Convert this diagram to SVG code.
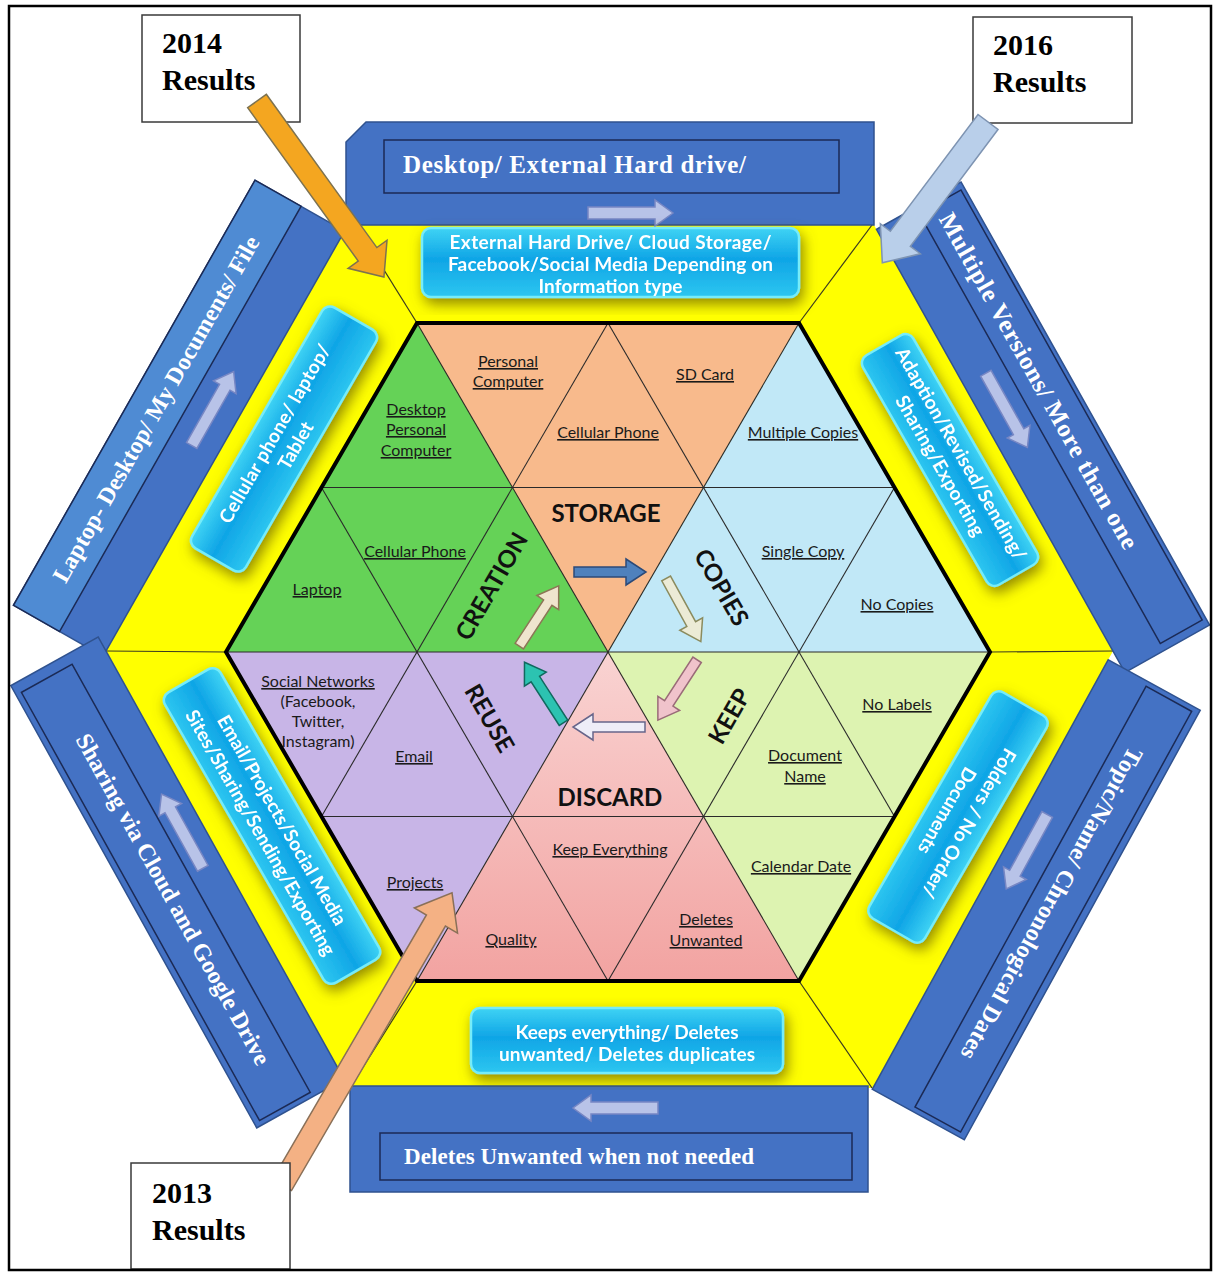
<svg xmlns="http://www.w3.org/2000/svg" width="1213" height="1272" viewBox="0 0 1213 1272">
<defs>
<style>
.flap{fill:#4472C4;stroke:#2F528F;stroke-width:1.5}
.inner{fill:none;stroke:#1B2A55;stroke-width:1.5}
.light{fill:#4F8BD3;stroke:#1B2A55;stroke-width:1.5}
.ft{font-family:"Liberation Serif","Times New Roman",serif;font-weight:bold;fill:#FFFFFF}
.fa{fill:#B8C3E8;stroke:#7787C4;stroke-width:1.5}
.cy{fill:url(#cyG);stroke:#74ECFA;stroke-width:2.5}
.ct{font-family:Lato,"Open Sans",sans-serif;font-weight:bold;font-size:19px;fill:#FFFFFF;text-anchor:middle}
.lb{font-family:Lato,"Open Sans",sans-serif;font-size:16px;fill:#1A1A1A;text-anchor:middle}
.u{text-decoration:underline}
.sc{font-family:Lato,"Open Sans",sans-serif;font-weight:bold;font-size:24px;fill:#111111;text-anchor:middle}
.gl{stroke:#2A2A2A;stroke-width:1.1;fill:none}
.yl{stroke:#3A3A20;stroke-width:1.2}
.cb{fill:#FFFFFF;stroke:#3A3A3A;stroke-width:1.5}
.cbt{font-family:"Liberation Serif","Times New Roman",serif;font-weight:bold;font-size:30px;fill:#000000}
</style>
<linearGradient id="cyG" x1="0" y1="0" x2="0" y2="1">
<stop offset="0" stop-color="#3FD3F4"/>
<stop offset="0.45" stop-color="#0FA5E6"/>
<stop offset="1" stop-color="#2DC6F0"/>
</linearGradient>
<linearGradient id="pkG" x1="0" y1="0" x2="0" y2="1">
<stop offset="0" stop-color="#F9D3D2"/>
<stop offset="1" stop-color="#F2A3A1"/>
</linearGradient>
<filter id="sh" x="-25%" y="-25%" width="150%" height="150%">
<feGaussianBlur in="SourceAlpha" stdDeviation="7"/>
<feOffset dx="3" dy="6" result="b"/>
<feFlood flood-color="#6B6000" flood-opacity="0.75"/>
<feComposite in2="b" operator="in"/>
<feMerge><feMergeNode/><feMergeNode in="SourceGraphic"/></feMerge>
</filter>
<path id="fa" d="M0,-6 H67 V-13 L85,0 L67,13 V6 H0 Z"/>
<path id="ca" d="M-36,-5 H16 V-13 L36,0 L16,13 V5 H-36 Z"/>
</defs>

<rect x="0" y="0" width="1213" height="1272" fill="#FFFFFF"/>

<g id="yellow">
<polygon points="348,225 874,225 1113,651 873,1088 349,1088 106,651" fill="#FFFF00"/>
<line class="yl" x1="417" y1="323" x2="356" y2="225"/>
<line class="yl" x1="799" y1="323" x2="872" y2="225"/>
<line class="yl" x1="990" y1="652" x2="1113" y2="651"/>
<line class="yl" x1="799" y1="981" x2="872" y2="1088"/>
<line class="yl" x1="417" y1="981" x2="350" y2="1088"/>
<line class="yl" x1="226" y1="652" x2="106" y2="651"/>
</g>

<g id="flap-tl" transform="translate(106,651) rotate(-60.4)">
<polygon class="flap" points="-6,0 483,0 483,-103 -6,-103"/>
<rect class="light" x="-6" y="-103" width="489" height="53"/>
<text class="ft" x="38" y="-68" font-size="24" textLength="394">Laptop- Desktop/ My Documents/ File</text>
<use href="#fa" class="fa" transform="translate(221,-27)"/>
</g>

<g id="flap-tr" transform="translate(874,225) rotate(60.71)">
<polygon class="flap" points="5,0 513,0 513,-97 5,-97"/>
<rect class="inner" x="12" y="-93" width="493" height="48"/>
<text class="ft" x="26" y="-59" font-size="25" textLength="381">Multiple Versions/ More than one</text>
<use href="#fa" class="fa" transform="translate(184,-25)"/>
</g>

<g id="flap-br" transform="translate(1113,651) rotate(118.78)">
<polygon class="flap" points="10,0 500,0 500,-105 10,-105"/>
<rect class="inner" x="15" y="-98" width="480" height="52"/>
<text class="ft" x="75" y="-60" font-size="24" textLength="352">Topic/Name/ Chronological Dates</text>
<use href="#fa" class="fa" transform="translate(175,-21)"/>
</g>

<g id="flap-bl" transform="translate(349,1088) rotate(240.92)">
<polygon class="flap" points="10,0 516,0 516,-100 10,-100"/>
<rect class="inner" x="15" y="-94" width="490" height="58"/>
<text class="ft" transform="translate(438,-62) rotate(180)" x="0" y="8" font-size="24" textLength="375">Sharing via Cloud and Google Drive</text>
<use href="#fa" class="fa" transform="translate(263,-21)"/>
</g>

<g id="flap-top">
<polygon class="flap" points="346,225 874,225 874,122 366,122 346,142"/>
<rect class="inner" x="384" y="140" width="455" height="53"/>
<text class="ft" x="403" y="173" font-size="25" textLength="343">Desktop/ External Hard drive/</text>
<use href="#fa" class="fa" transform="translate(588,213)"/>
</g>

<g id="flap-bottom">
<rect class="flap" x="350" y="1086" width="518" height="106"/>
<rect class="inner" x="380" y="1133" width="472" height="47"/>
<text class="ft" x="404" y="1164" font-size="23" textLength="350">Deletes Unwanted when not needed</text>
<use href="#fa" class="fa" transform="translate(658,1108) rotate(180)"/>
</g>

<g id="box-top" filter="url(#sh)">
<rect class="cy" x="422" y="228" width="377" height="69" rx="9"/>
<text class="ct" x="610.5" y="249" textLength="322">External Hard Drive/ Cloud Storage/</text>
<text class="ct" x="610.5" y="271" textLength="325">Facebook/Social Media Depending on</text>
<text class="ct" x="610.5" y="293" textLength="144">Information type</text>
</g>

<g id="box-tl" filter="url(#sh)">
<g transform="translate(284,439) rotate(-60)">
<rect class="cy" x="-139" y="-31" width="278" height="62" rx="9"/>
<text class="ct" x="0" y="-4" textLength="203">Cellular phone/ laptop/</text>
<text class="ct" x="0" y="20">Tablet</text>
</g>
</g>

<g id="box-tr" filter="url(#sh)">
<g transform="translate(950,460) rotate(60)">
<rect class="cy" x="-132.5" y="-29" width="265" height="58" rx="9"/>
<text class="ct" x="0" y="-6" textLength="242">Adaption/Revised/Sending/</text>
<text class="ct" x="0" y="18" textLength="159">Sharing/Exporting</text>
</g>
</g>

<g id="box-br" filter="url(#sh)">
<g transform="translate(958,817) rotate(120)">
<rect class="cy" x="-130.5" y="-32" width="261" height="64" rx="9"/>
<text class="ct" x="0" y="-6" textLength="169">Folders / No Order/</text>
<text class="ct" x="0" y="19" textLength="97">Documents</text>
</g>
</g>

<g id="box-bottom" filter="url(#sh)">
<rect class="cy" x="471" y="1008" width="312" height="65" rx="9"/>
<text class="ct" x="627" y="1039" textLength="223">Keeps everything/ Deletes</text>
<text class="ct" x="627" y="1061" textLength="256">unwanted/ Deletes duplicates</text>
</g>

<g id="box-bl" filter="url(#sh)">
<g transform="translate(272,826) rotate(60)">
<rect class="cy" x="-167.5" y="-32" width="335" height="64" rx="9"/>
<text class="ct" x="0" y="-5" textLength="239">Email/Projects/Social Media</text>
<text class="ct" x="0" y="20" textLength="280">Sites/Sharing/Sending/Exporting</text>
</g>
</g>

<g id="hex">
<polygon points="417,323 799,323 608,652" fill="#F8BA8C"/>
<polygon points="799,323 990,652 608,652" fill="#C1E8F7"/>
<polygon points="990,652 799,981 608,652" fill="#DDF3B1"/>
<polygon points="799,981 417,981 608,652" fill="url(#pkG)"/>
<polygon points="417,981 226,652 608,652" fill="#C8B5E7"/>
<polygon points="226,652 417,323 608,652" fill="#65D257"/>
<line class="gl" x1="321.5" y1="487.5" x2="894.5" y2="487.5"/>
<line class="gl" x1="226" y1="652" x2="990" y2="652"/>
<line class="gl" x1="321.5" y1="816.5" x2="894.5" y2="816.5"/>
<line class="gl" x1="608" y1="323" x2="321.5" y2="816.5"/>
<line class="gl" x1="799" y1="323" x2="417" y2="981"/>
<line class="gl" x1="894.5" y1="487.5" x2="608" y2="981"/>
<line class="gl" x1="608" y1="323" x2="894.5" y2="816.5"/>
<line class="gl" x1="417" y1="323" x2="799" y2="981"/>
<line class="gl" x1="321.5" y1="487.5" x2="608" y2="981"/>
<polygon points="417,323 799,323 990,652 799,981 417,981 226,652" fill="none" stroke="#000000" stroke-width="4"/>
</g>

<g id="labels">
<text class="lb u" x="508" y="367">Personal</text>
<text class="lb u" x="508" y="387">Computer</text>
<text class="lb u" x="705" y="380">SD Card</text>
<text class="lb u" x="608" y="438">Cellular Phone</text>
<text class="lb u" x="803" y="438">Multiple Copies</text>
<text class="lb u" x="416" y="415">Desktop</text>
<text class="lb u" x="416" y="435">Personal</text>
<text class="lb u" x="416" y="456">Computer</text>
<text class="lb u" x="415" y="557">Cellular Phone</text>
<text class="lb u" x="317" y="595">Laptop</text>
<text class="lb u" x="803" y="557">Single Copy</text>
<text class="lb u" x="897" y="610">No Copies</text>
<text class="lb u" x="318" y="687">Social Networks</text>
<text class="lb" x="318" y="707">(Facebook,</text>
<text class="lb" x="318" y="727">Twitter,</text>
<text class="lb" x="318" y="747">Instagram)</text>
<text class="lb u" x="414" y="762">Email</text>
<text class="lb u" x="897" y="710">No Labels</text>
<text class="lb u" x="805" y="761">Document</text>
<text class="lb u" x="805" y="782">Name</text>
<text class="lb u" x="610" y="855">Keep Everything</text>
<text class="lb u" x="801" y="872">Calendar Date</text>
<text class="lb u" x="415" y="888">Projects</text>
<text class="lb u" x="706" y="925">Deletes</text>
<text class="lb u" x="706" y="946">Unwanted</text>
<text class="lb u" x="511" y="945">Quality</text>
<text class="sc" x="606" y="522">STORAGE</text>
<text class="sc" x="610" y="806">DISCARD</text>
<text class="sc" transform="translate(491,586) rotate(-60)" x="0" y="9">CREATION</text>
<text class="sc" transform="translate(722,587) rotate(60)" x="0" y="9">COPIES</text>
<text class="sc" transform="translate(729,716) rotate(-60)" x="0" y="9">KEEP</text>
<text class="sc" transform="translate(490,718) rotate(60)" x="0" y="9">REUSE</text>
</g>

<g id="callout-2014">
<rect class="cb" x="142" y="15" width="158" height="107"/>
<text class="cbt" x="162" y="53">2014</text>
<text class="cbt" x="162" y="90">Results</text>
</g>

<g id="callout-2016">
<rect class="cb" x="973" y="17" width="159" height="106"/>
<text class="cbt" x="993" y="55">2016</text>
<text class="cbt" x="993" y="92">Results</text>
</g>

<g id="connectors">
<use href="#ca" transform="translate(610,572)" fill="#4F81BD" stroke="#2C4A78" stroke-width="1.5"/>
<use href="#ca" transform="translate(683.5,610) rotate(61.2)" fill="#ECEBD6" stroke="#8B8B5E" stroke-width="1.5"/>
<use href="#ca" transform="translate(677.5,690) rotate(123)" fill="#F0C3CB" stroke="#9A6B78" stroke-width="1.5"/>
<use href="#ca" transform="translate(609,727) rotate(180)" fill="#EEEDF8" stroke="#67658A" stroke-width="1.5"/>
<use href="#ca" transform="translate(544,692.5) rotate(237.2)" fill="#2CC3B1" stroke="#11695F" stroke-width="1.5"/>
<use href="#ca" transform="translate(539,616) rotate(-56.8)" fill="#EFE5CE" stroke="#8C7756" stroke-width="1.5"/>
<path d="M0,-11.5 H189 V-24 L217,0 L189,24 V11.5 H0 Z" transform="translate(257,101) rotate(54.2)" fill="#F4A620" stroke="#7D7250" stroke-width="1.5"/>
<path d="M0,-12.5 H146 V-25 L176,0 L146,25 V12.5 H0 Z" transform="translate(988,122) rotate(126.9)" fill="#B9CFEA" stroke="#7E94B2" stroke-width="1.5"/>
<path d="M0,-11 H306 V-25 L338,0 L306,25 V11 H0 Z" transform="translate(282,1185) rotate(-59.8)" fill="#F4B184" stroke="#8A7058" stroke-width="1.5"/>
</g>

<g id="callout-2013">
<rect class="cb" x="131" y="1163" width="159" height="106"/>
<text class="cbt" x="152" y="1203">2013</text>
<text class="cbt" x="152" y="1240">Results</text>
</g>

<rect id="frame" x="9" y="6" width="1202" height="1264" fill="none" stroke="#000000" stroke-width="2.5"/>
</svg>
